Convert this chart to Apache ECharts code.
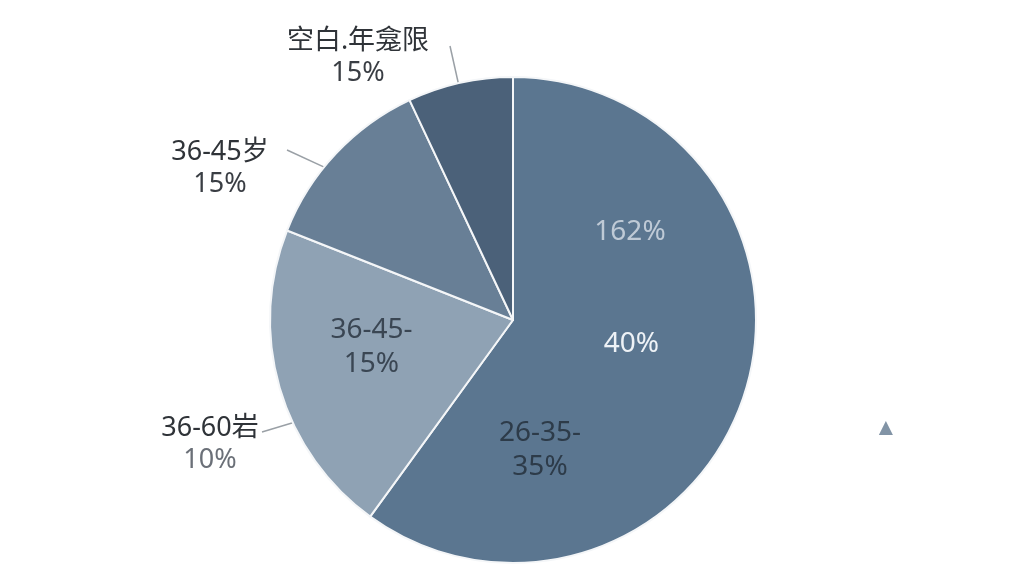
<!DOCTYPE html>
<html>
<head>
    <meta charset="UTF-8">
    <title>年龄分布</title>
    <script src="https://cdn.jsdelivr.net/npm/echarts@6/dist/echarts.min.js"></script>
    <style>
        html, body { margin: 0; padding: 0; background: #fff; }
        #main { width: 1024px; height: 576px; }
    </style>
</head>
<body>
<div id="main"></div>
<script type="text/javascript">
    // 数据（顺时针，从12点方向开始）
    var sliceNames = ['26-35岁', '36-60岁', '36-45岁', '空白.年龛限'];
    var sliceValues = [60, 21, 12, 7];
    var sliceColors = ['#5b7690', '#8fa2b4', '#687f96', '#4b6179'];
    // 外部标签文字
    var outerNames = ['', '36-60岩', '36-45岁', '空白.年龛限'];
    var outerPcts = ['', '10%', '15%', '15%'];
    // 内部标签文字
    var innerTexts = ['40%', '36-45-\n15%', '', ''];

    // 饼图几何
    var pieCenter = [513, 320];
    var pieRadius = 243;
    // 外部标签位置（像素）和引导线
    var outerLabelPos = [null, [210, 444], [220, 168], [358, 57]];
    var lineStartAngle = [null, 245, 309, 347];   // 顺时针，从12点开始（度）
    var lineEnd = [null, [262, 432], [287, 150], [450, 46]];

    var myChart = echarts.init(document.getElementById('main'));

    var baseData = [];
    for (var i = 0; i < sliceValues.length; i++) {
        baseData.push({
            value: sliceValues[i],
            name: sliceNames[i],
            itemStyle: {color: sliceColors[i]}
        });
    }

    var outerData = baseData.map(function (d, i) {
        return {
            value: d.value,
            name: d.name,
            itemStyle: d.itemStyle,
            label: {show: i > 0},
            labelLine: {show: i > 0}
        };
    });

    var innerData = baseData.map(function (d, i) {
        return {
            value: d.value,
            name: d.name,
            label: {
                show: innerTexts[i] !== '',
                color: i === 0 ? '#eef2f6' : '#3a4653'
            }
        };
    });

    var font = 'Noto Sans, Noto Sans CJK SC, sans-serif';

    var option = {
        backgroundColor: '#fff',
        animation: false,
        series: [
            {
                name: '年龄',
                type: 'pie',
                radius: pieRadius,
                center: pieCenter,
                startAngle: 90,
                clockwise: true,
                silent: true,
                itemStyle: {
                    borderColor: '#f4f6f8',
                    borderWidth: 2
                },
                label: {
                    position: 'outside',
                    fontFamily: font,
                    formatter: function (p) {
                        return '{n|' + outerNames[p.dataIndex] + '}\n{p' + (p.dataIndex === 1 ? 'g' : '') + '|' + outerPcts[p.dataIndex] + '}';
                    },
                    rich: {
                        n: {fontSize: 27, color: '#2f3338', lineHeight: 32, align: 'center', fontFamily: font},
                        p: {fontSize: 27, color: '#3a3e44', lineHeight: 32, align: 'center', fontFamily: font},
                        pg: {fontSize: 27, color: '#6b7078', lineHeight: 32, align: 'center', fontFamily: font}
                    }
                },
                labelLine: {
                    length: 30,
                    length2: 0,
                    lineStyle: {color: '#9aa0a6', width: 1.5}
                },
                labelLayout: function (params) {
                    var k = params.dataIndex;
                    var p = outerLabelPos[k];
                    if (!p) {
                        return {};
                    }
                    var a = lineStartAngle[k] * Math.PI / 180;
                    var start = [
                        pieCenter[0] + pieRadius * Math.sin(a),
                        pieCenter[1] - pieRadius * Math.cos(a)
                    ];
                    return {
                        x: p[0], y: p[1], align: 'center', verticalAlign: 'middle',
                        labelLinePoints: [start, lineEnd[k]]
                    };
                },
                data: outerData
            },
            {
                name: '内部标签',
                type: 'pie',
                radius: pieRadius,
                center: pieCenter,
                startAngle: 90,
                clockwise: true,
                silent: true,
                itemStyle: {color: 'rgba(0,0,0,0)'},
                label: {
                    position: 'inside',
                    fontSize: 28,
                    lineHeight: 34,
                    fontFamily: 'Noto Sans, sans-serif',
                    formatter: function (p) {
                        return innerTexts[p.dataIndex];
                    }
                },
                labelLayout: function (params) {
                    if (params.dataIndex === 1) {
                        return {dx: -22, dy: -8};
                    }
                    if (params.dataIndex === 0) {
                        return {dy: -14};
                    }
                    return {};
                },
                labelLine: {show: false},
                data: innerData
            }
        ],
        graphic: [
            {
                type: 'text',
                z: 100,
                x: 630,
                y: 232,
                style: {
                    text: '162%',
                    fontSize: 28,
                    align: 'center',
                    verticalAlign: 'middle',
                    fontFamily: 'Noto Sans, sans-serif',
                    fill: '#bfcad6'
                }
            },
            {
                type: 'text',
                z: 100,
                x: 540,
                y: 450,
                style: {
                    text: '26-35-\n35%',
                    fontSize: 28,
                    lineHeight: 34,
                    align: 'center',
                    verticalAlign: 'middle',
                    fontFamily: 'Noto Sans, sans-serif',
                    fill: '#2d3b49'
                }
            },
            {
                type: 'text',
                z: 100,
                x: 886,
                y: 428,
                style: {
                    text: '▲',
                    fontSize: 24,
                    align: 'center',
                    verticalAlign: 'middle',
                    fill: '#8294a6'
                }
            }
        ]
    };
    myChart.setOption(option);
</script>
</body>
</html>
